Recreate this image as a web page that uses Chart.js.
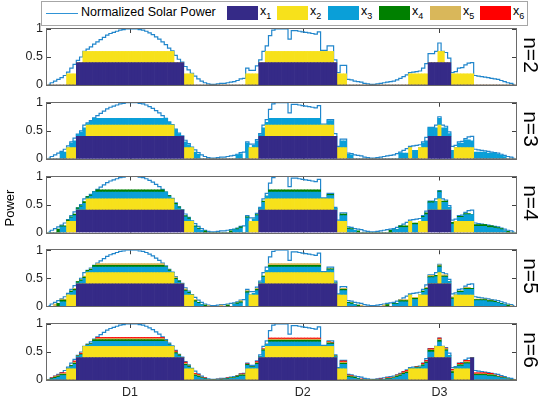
<!DOCTYPE html>
<html>
<head>
<meta charset="utf-8">
<title>Normalized Solar Power allocation</title>
<script src="https://cdn.jsdelivr.net/npm/chart.js@4.4.1/dist/chart.umd.min.js"></script>
<style>
  html, body { margin: 0; padding: 0; background: #fff; }
  #stage { position: relative; width: 545px; height: 399px; overflow: hidden;
           font-family: "Liberation Sans", Arial, Helvetica, sans-serif; color: #262626; }
  #stage canvas { position: absolute; left: 0; }
  #legend { position: absolute; left: 41px; top: 1px; width: 487px; height: 25px;
            box-sizing: border-box; border: 1px solid #a6a6a6; background: #fff; }
  #legend .lgline { position: absolute; left: 4px; top: 11px; width: 32px; height: 1px;
                    background: #2f93d6; }
  #legend .lgtext { position: absolute; top: 3px; font-size: 12.5px; line-height: 15px; color: #000; white-space: nowrap; }
  #legend .lgbox { position: absolute; top: 3.5px; width: 31px; height: 14.5px; }
  #legend sub { font-size: 9px; vertical-align: -4px; line-height: 0; }
  .rot { position: absolute; width: 120px; text-align: center; white-space: nowrap; color: #000; }
</style>
</head>
<body>
<div id="stage">
  <div id="legend"></div>
</div>
<script>
// ============================================
// 1. データ
// ============================================

const N = 144;

const solarPower = [
    0.01, 0.04, 0.07, 0.10, 0.13, 0.17, 0.23, 0.30, 0.37, 0.44,
    0.50, 0.60, 0.64, 0.68, 0.73, 0.77, 0.81, 0.85, 0.89, 0.92,
    0.94, 0.96, 0.98, 0.99, 1.00, 1.00, 1.00, 1.00, 0.99, 0.98,
    0.96, 0.93, 0.90, 0.86, 0.82, 0.77, 0.72, 0.66, 0.61, 0.53,
    0.46, 0.41, 0.33, 0.27, 0.21, 0.16, 0.11, 0.07, 0.04, 0.02,
    0.01, 0.01, 0.02, 0.03, 0.03, 0.04, 0.05, 0.06, 0.08, 0.11,
    0.12, 0.30, 0.26, 0.26, 0.34, 0.45, 0.60, 0.70, 0.88, 0.98,
    1.00, 1.00, 1.00, 1.00, 0.82, 0.97, 0.97, 0.96, 0.95, 0.94,
    0.93, 0.92, 0.91, 0.95, 0.62, 0.62, 0.70, 0.70, 0.45, 0.22,
    0.35, 0.35, 0.10, 0.09, 0.07, 0.06, 0.05, 0.03, 0.02, 0.01,
    0.01, 0.02, 0.03, 0.04, 0.05, 0.06, 0.07, 0.09, 0.12, 0.15,
    0.18, 0.22, 0.23, 0.24, 0.25, 0.30, 0.38, 0.56, 0.56, 0.60,
    0.75, 0.60, 0.58, 0.48, 0.22, 0.24, 0.30, 0.31, 0.36, 0.39,
    0.40, 0.17, 0.16, 0.15, 0.14, 0.13, 0.12, 0.11, 0.10, 0.08,
    0.06, 0.04, 0.03, 0.01
];

const dayTickIndex = [25, 78, 120];
const dayTickLabels = ['D1', 'D2', 'D3'];
const yTickValues = [0, 0.5, 1];
const rowNames = ['n=2', 'n=3', 'n=4', 'n=5', 'n=6'];
const seriesNames = ['x1', 'x2', 'x3', 'x4', 'x5', 'x6'];
const seriesColors = ['#352a87', '#f7e11b', '#0a9fd8', '#008000', '#d9b75a', '#ff0000'];

// 各系列は [開始, 終了, 値] の区間で記述
const n2_x1 = [[9,41,.4],[65,88,.4],[117,123,.4]];
const n2_x2 = [[6,8,.2],[11,38,.2],[42,44,.2],[61,64,.2],[67,87,.2],[89,91,.2],[111,116,.2],[120,121,.2],[124,130,.2]];

const n3_x1 = [[9,41,.4],[65,88,.4],[117,123,.4]];
const n3_x2 = [[6,8,.2],[12,38,.2],[42,44,.2],[62,64,.2],[67,87,.2],[89,91,.2],[111,111,.2],[114,116,.2],[120,120,.2],[125,130,.2]];
const n3_x3 = [[4,5,.12],[7,7,.08],[8,8,.12],[9,9,.03],[10,10,.08],[11,11,.15],[12,12,.03],[13,13,.07],[14,36,.12],[37,37,.05],[39,39,.12],[40,40,.05],[42,42,.1],[43,43,.05],[45,45,.12],[46,46,.08],
    [58,58,.07],[59,59,.09],[61,61,.28],[63,63,.04],[64,64,.12],[65,65,.03],[66,66,.15],[67,67,.05],[68,83,.12],[86,87,.08],[90,91,.12],[92,92,.08],[93,93,.07],
    [108,110,.1],[112,113,.15],[115,115,.08],[116,116,.12],[117,119,.15],[120,120,.12],[121,122,.15],[123,123,.05],[124,124,.15],[126,127,.08],[128,129,.14],[130,130,.12],[131,134,.12],[135,137,.1],[138,138,.08],[139,139,.06],[140,140,.04]];

const n4_x1 = [[9,41,.4],[65,88,.4],[117,123,.4]];
const n4_x2 = [[6,8,.2],[12,38,.2],[42,44,.2],[62,64,.2],[67,87,.2],[89,91,.2],[111,111,.2],[114,116,.2],[120,120,.2],[125,130,.2]];
const n4_x3 = [[4,5,.1],[7,7,.06],[8,8,.1],[9,9,.02],[10,10,.06],[11,11,.12],[12,12,.02],[13,13,.05],[14,36,.12],[37,37,.04],[39,39,.1],[40,40,.04],[42,42,.08],[43,43,.04],[45,45,.1],[46,46,.06],[47,47,.04],
    [57,58,.05],[59,59,.08],[61,61,.26],[63,63,.04],[64,64,.1],[65,65,.03],[66,66,.14],[67,67,.05],[68,83,.12],[86,87,.06],[88,88,.03],[90,91,.1],[92,92,.06],[93,93,.05],[94,94,.04],
    [106,107,.05],[108,110,.09],[112,113,.14],[115,115,.07],[116,116,.12],[117,118,.13],[119,119,.15],[120,120,.12],[121,122,.14],[123,123,.05],[124,124,.15],[126,127,.07],[128,130,.12],[131,134,.11],[135,136,.09],[137,137,.08],[138,138,.07],[139,139,.05],[140,140,.03]];
const n4_x4 = [[3,3,.06],[4,5,.02],[6,7,.02],[8,8,.03],[9,10,.02],[11,11,.03],[12,13,.02],[15,35,.04],[37,37,.02],[39,40,.02],[42,43,.02],[45,46,.02],[48,48,.03],
    [56,56,.03],[58,59,.02],[61,61,.02],[64,64,.02],[66,66,.02],[68,83,.04],[86,87,.02],[90,91,.03],[92,93,.02],[95,95,.03],
    [105,105,.04],[108,110,.03],[112,113,.03],[115,115,.02],[116,116,.03],[117,118,.02],[120,122,.02],[124,124,.03],[126,129,.02],[131,136,.03],[137,139,.02],[141,141,.02]];

const n5_x1 = [[9,41,.4],[65,88,.4],[117,123,.4]];
const n5_x2 = [[6,8,.2],[12,38,.2],[42,44,.2],[62,64,.2],[67,87,.2],[89,91,.2],[111,111,.2],[114,116,.2],[120,120,.2],[125,130,.2]];
const n5_x3 = [[4,5,.08],[7,7,.05],[8,8,.08],[9,9,.02],[10,10,.05],[11,11,.1],[12,12,.02],[13,13,.04],[14,36,.1],[37,37,.03],[39,39,.08],[40,40,.03],[42,42,.07],[43,43,.03],[45,45,.08],[46,46,.05],[47,47,.03],
    [57,58,.04],[59,59,.06],[61,61,.24],[63,63,.03],[64,64,.08],[65,65,.02],[66,66,.12],[67,67,.04],[68,83,.1],[86,87,.05],[88,88,.02],[90,91,.08],[92,92,.05],[93,93,.04],[94,94,.03],
    [106,107,.04],[108,110,.08],[112,113,.12],[115,115,.05],[116,116,.1],[117,118,.11],[119,119,.13],[120,120,.1],[121,122,.12],[123,123,.04],[124,124,.13],[126,127,.05],[128,130,.1],[131,134,.1],[135,136,.08],[137,137,.07],[138,138,.06],[139,139,.04],[140,140,.03]];
const n5_x4 = [[3,3,.05],[4,5,.03],[7,8,.02],[9,11,.02],[12,13,.02],[14,35,.03],[36,36,.01],[37,37,.02],[39,40,.02],[42,43,.02],[45,46,.02],[48,48,.02],
    [55,55,.02],[58,59,.02],[61,61,.02],[64,64,.02],[66,66,.02],[68,83,.03],[86,87,.02],[90,91,.02],[92,93,.02],[95,95,.02],
    [104,104,.03],[106,107,.01],[108,110,.02],[112,113,.02],[115,122,.02],[124,124,.02],[126,137,.02],[138,139,.01],[141,141,.02]];
const n5_x5 = [[2,2,.04],[4,5,.02],[8,8,.02],[11,11,.02],[13,13,.01],[15,35,.03],[39,39,.02],[42,42,.02],[45,45,.02],[49,49,.01],
    [53,53,.02],[59,59,.02],[61,61,.02],[64,64,.02],[68,83,.03],[90,91,.02],[96,96,.02],
    [103,103,.02],[108,110,.02],[112,113,.02],[116,118,.02],[120,122,.02],[124,124,.02],[128,129,.02],[131,136,.01],[142,142,.01]];

const n6_x1 = [[9,41,.4],[65,88,.4],[117,123,.4],[130,130,.4]];
const n6_x2 = [[6,8,.2],[11,38,.2],[42,44,.2],[61,64,.2],[67,87,.2],[89,91,.2],[111,116,.2],[119,121,.2],[125,129,.2]];
const n6_x3 = [[1,1,.02],[2,2,.03],[3,3,.05],[4,5,.08],[7,7,.04],[8,8,.08],[9,9,.02],[10,10,.05],[12,12,.02],[13,13,.04],[14,36,.09],[37,37,.03],[39,39,.07],[40,40,.03],[42,42,.06],[43,43,.03],[45,45,.07],[46,46,.05],[47,47,.03],[48,48,.02],
    [52,52,.01],[54,55,.02],[56,57,.03],[58,58,.05],[59,60,.07],[61,61,.06],[62,63,.03],[64,64,.08],[65,65,.02],[66,66,.12],[67,67,.04],[68,83,.08],[86,87,.04],[88,88,.02],[90,91,.08],[92,92,.05],[93,93,.04],[94,94,.03],[95,95,.02],
    [101,101,.005],[103,103,.01],[104,105,.02],[106,106,.03],[107,107,.05],[108,108,.07],[109,109,.1],[110,110,.12],[113,114,.02],[115,115,.05],[116,116,.1],[117,118,.1],[120,120,.08],[122,122,.12],[123,123,.04],[124,124,.12],[125,125,.02],[126,127,.05],[128,129,.09],[131,134,.08],[135,136,.07],[137,137,.06],[138,138,.05],[139,139,.04],[140,140,.03],[141,141,.02]];
const n6_x4 = [[1,1,.01],[2,5,.02],[7,8,.02],[9,10,.01],[12,13,.01],[14,35,.03],[36,37,.01],[39,40,.02],[42,43,.02],[45,46,.02],[47,48,.01],
    [51,51,.005],[53,53,.01],[55,57,.01],[58,61,.02],[62,63,.01],[64,64,.02],[66,66,.02],[68,83,.03],[86,87,.02],[88,88,.01],[90,91,.02],[92,94,.02],[95,96,.01],
    [100,100,.005],[102,102,.01],[104,106,.01],[107,110,.02],[113,114,.01],[115,116,.02],[117,118,.03],[120,120,.03],[122,122,.02],[124,124,.03],[126,129,.02],[131,137,.02],[138,140,.01],[142,142,.01]];
const n6_x5 = [[0,0,.005],[2,3,.01],[4,5,.015],[8,8,.02],[14,14,.005],[15,35,.02],[39,39,.01],[42,42,.02],[45,46,.015],[49,49,.01],
    [52,53,.005],[56,57,.005],[59,60,.01],[64,64,.01],[66,66,.01],[68,83,.02],[86,86,.02],[90,91,.02],[92,93,.01],[97,97,.01],
    [99,99,.005],[103,104,.005],[106,110,.01],[115,118,.01],[120,120,.02],[122,122,.02],[124,124,.02],[126,127,.01],[128,129,.02],[131,136,.01],[141,141,.005]];
const n6_x6 = [[1,3,.01],[4,5,.015],[8,8,.02],[10,10,.02],[15,35,.02],[39,39,.02],[42,42,.02],[45,46,.015],[47,48,.01],
    [51,51,.005],[54,55,.01],[58,58,.005],[59,61,.01],[64,64,.02],[66,66,.01],[68,83,.02],[86,87,.01],[90,91,.02],[92,93,.01],[96,96,.01],
    [101,102,.01],[104,105,.01],[107,108,.01],[109,110,.02],[113,113,.01],[115,118,.02],[120,120,.02],[122,122,.01],[124,124,.02],[126,129,.02],[131,136,.02],[137,139,.01],[143,143,.005]];

const rowSeries = [
    [n2_x1, n2_x2],
    [n3_x1, n3_x2, n3_x3],
    [n4_x1, n4_x2, n4_x3, n4_x4],
    [n5_x1, n5_x2, n5_x3, n5_x4, n5_x5],
    [n6_x1, n6_x2, n6_x3, n6_x4, n6_x5, n6_x6]
];

// ============================================
// 2. レイアウト
// ============================================

const rowTops = [29, 102.75, 176.5, 250.25, 324];
const plotH = 56;
const axisLeft = 47;
const axisRightPad = 29;
const margin = 13;   // 目盛りラベルのはみ出しより大きく
const tickFont = { family: '"Liberation Sans", Arial, Helvetica, sans-serif', size: 12.5 };

function expand(segments) {
    const out = new Array(N).fill(0);
    segments.forEach(([a, b, v]) => {
        for (let i = a; i <= b; i++) out[i] = v;
    });
    return out;
}

const categories = solarPower.map((_, i) => String(i));

// 枠と内向きの目盛り
const framePlugin = {
    id: 'frame',
    beforeDatasetsDraw(chart) {
        const { ctx, chartArea: a, scales } = chart;
        ctx.save();
        ctx.strokeStyle = '#404040';
        ctx.lineWidth = 1;
        ctx.beginPath();
        yTickValues.forEach(v => {
            const y = Math.round(scales.y.getPixelForValue(v)) + 0.5;
            ctx.moveTo(a.left, y); ctx.lineTo(a.left + 4, y);
            ctx.moveTo(a.right - 4, y); ctx.lineTo(a.right, y);
        });
        dayTickIndex.forEach(i => {
            const x = Math.round(scales.x.getPixelForValue(i)) + 0.5;
            ctx.moveTo(x, a.top); ctx.lineTo(x, a.top + 4);
            ctx.moveTo(x, a.bottom - 4); ctx.lineTo(x, a.bottom);
        });
        ctx.stroke();
        ctx.restore();
    },
    afterDatasetsDraw(chart) {
        const { ctx, chartArea: a } = chart;
        ctx.save();
        ctx.strokeStyle = '#6a6a6a';
        ctx.lineWidth = 1;
        ctx.strokeRect(Math.round(a.left) - 0.5, Math.round(a.top) - 0.5,
                       Math.round(a.right - a.left) + 1, Math.round(a.bottom - a.top) + 1);
        ctx.restore();
    }
};

const stage = document.getElementById('stage');

function makeRow(k) {
    const top = rowTops[k];
    const last = k === rowNames.length - 1;
    const cTop = Math.floor(top) - margin;
    const padTop = top - cTop;
    const h = last ? 399 - cTop : Math.ceil(padTop + plotH + margin);
    const padBottom = last ? 0 : h - padTop - plotH;
    const xAxisH = last ? h - padTop - plotH : 0;

    const canvas = document.createElement('canvas');
    canvas.width = 545;
    canvas.height = h;
    canvas.style.top = cTop + 'px';
    stage.appendChild(canvas);

    const datasets = rowSeries[k].map((segs, s) => ({
        type: 'bar',
        label: seriesNames[s],
        data: expand(segs),
        backgroundColor: seriesColors[s],
        borderWidth: 0,
        barPercentage: 1,
        categoryPercentage: 1,
        stack: 'alloc',
        order: 0
    }));
    datasets.push({
        type: 'line',
        label: 'Normalized Solar Power',
        data: solarPower,
        stepped: 'middle',
        borderColor: '#2186cc',
        borderWidth: 1.2,
        pointRadius: 0,
        fill: false,
        stack: 'solar',
        order: 1
    });

    new Chart(canvas, {
        type: 'bar',
        data: { labels: categories, datasets },
        options: {
            responsive: false,
            animation: false,
            devicePixelRatio: 1,
            events: [],
            layout: { padding: { top: padTop, bottom: padBottom, left: 0, right: axisRightPad } },
            plugins: { legend: { display: false }, tooltip: { enabled: false } },
            scales: {
                x: {
                    stacked: true,
                    display: last,
                    grid: { display: false, drawTicks: false },
                    border: { display: false },
                    ticks: {
                        autoSkip: false, maxRotation: 0, minRotation: 0, padding: 5,
                        font: tickFont, color: '#262626',
                        callback: function(value, index) {
                            const j = dayTickIndex.indexOf(index);
                            return j >= 0 ? dayTickLabels[j] : '';
                        }
                    },
                    afterFit: s => { s.height = xAxisH; }
                },
                y: {
                    stacked: true,
                    min: 0,
                    max: 1,
                    grid: { display: false, drawTicks: false },
                    border: { display: false },
                    ticks: {
                        stepSize: 0.5, padding: 4, font: tickFont, color: '#262626',
                        callback: v => yTickValues.includes(v) ? String(v) : ''
                    },
                    afterFit: s => { s.width = axisLeft; }
                }
            }
        },
        plugins: [framePlugin]
    });

    // 右側の n ラベル
    const lab = document.createElement('div');
    lab.className = 'rot';
    lab.textContent = rowNames[k];
    lab.style.fontSize = '21px';
    lab.style.lineHeight = '24px';
    lab.style.left = (531 - 60) + 'px';
    lab.style.top = (top + plotH / 2 - 2 - 12) + 'px';
    lab.style.transform = 'rotate(90deg)';
    stage.appendChild(lab);
}

rowNames.forEach((_, k) => makeRow(k));

// ============================================
// 3. 凡例と軸ラベル
// ============================================

const legend = document.getElementById('legend');
legend.insertAdjacentHTML('beforeend',
    '<div class="lgline"></div><div class="lgtext" style="left:39px">Normalized Solar Power</div>');
const boxLeft = [185, 235, 286, 337, 388, 438];
seriesNames.forEach((nm, s) => {
    legend.insertAdjacentHTML('beforeend',
        `<div class="lgbox" style="left:${boxLeft[s]}px;background:${seriesColors[s]}"></div>` +
        `<div class="lgtext" style="left:${boxLeft[s] + 33}px;top:1.5px">x<sub>${nm.slice(1)}</sub></div>`);
});

const ylab = document.createElement('div');
ylab.className = 'rot';
ylab.textContent = 'Power';
ylab.style.fontSize = '13px';
ylab.style.lineHeight = '16px';
ylab.style.left = (10 - 60) + 'px';
ylab.style.top = (208 - 8) + 'px';
ylab.style.transform = 'rotate(-90deg)';
stage.appendChild(ylab);
</script>
</body>
</html>
